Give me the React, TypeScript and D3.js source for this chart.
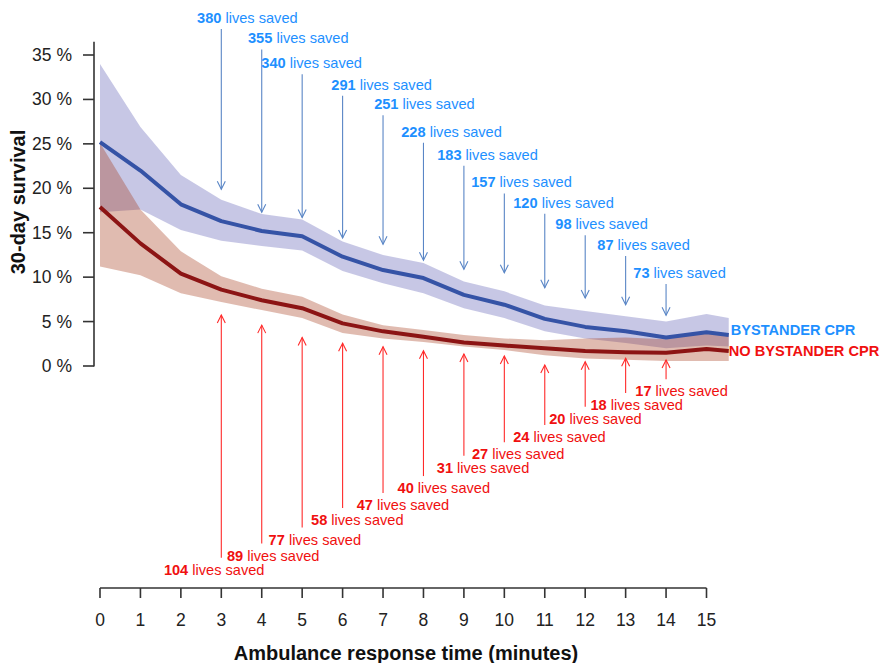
import React from "react";
import * as d3 from "d3";

// ---- data ----
const minutes = [0, 1, 2, 3, 4, 5, 6, 7, 8, 9, 10, 11, 12, 13, 14, 15, 15.55];

const cprMean = [25.2, 22.0, 18.2, 16.3, 15.2, 14.6, 12.3, 10.8, 9.9, 8.0, 6.9, 5.3, 4.4, 3.9, 3.2, 3.8, 3.5];
const cprHigh = [34.0, 26.9, 21.5, 18.7, 17.1, 16.5, 14.0, 12.5, 11.6, 9.5, 8.4, 6.8, 6.2, 5.6, 5.0, 5.85, 5.4];
const cprLow = [17.3, 17.6, 15.3, 14.1, 13.5, 13.0, 10.7, 9.3, 8.2, 6.5, 5.4, 3.9, 3.1, 2.6, 2.0, 2.3, 2.2];

const noCprMean = [17.9, 13.8, 10.4, 8.6, 7.4, 6.5, 4.8, 3.9, 3.3, 2.65, 2.3, 2.0, 1.7, 1.55, 1.5, 1.9, 1.7];
const noCprHigh = [25.1, 17.6, 12.9, 10.1, 8.7, 7.8, 5.8, 4.6, 4.05, 3.5, 3.1, 2.9, 3.1, 3.2, 3.0, 3.8, 3.6];
const noCprLow = [11.2, 10.2, 8.2, 7.2, 6.3, 5.4, 3.7, 3.1, 2.7, 2.2, 1.8, 1.2, 0.85, 0.7, 0.55, 0.55, 0.55];

const arrowMinutes = [3, 4, 5, 6, 7, 8, 9, 10, 11, 12, 13, 14];

const cprSaved = [380, 355, 340, 291, 251, 228, 183, 157, 120, 98, 87, 73];
const cprLabelMin = [2.4, 3.66, 3.99, 5.72, 6.78, 7.45, 8.34, 9.18, 10.22, 11.26, 12.3, 13.19];
const cprLabelPct = [38.6, 36.3, 33.5, 31.1, 28.9, 25.8, 23.2, 20.1, 17.8, 15.4, 13.05, 9.9];
const cprTipPct = [19.9, 17.3, 16.7, 14.4, 13.7, 11.9, 10.9, 10.5, 8.8, 7.65, 6.9, 5.7];

const noCprSaved = [104, 89, 77, 58, 47, 40, 31, 27, 24, 20, 18, 17];
const noCprLabelMin = [1.58, 3.14, 4.17, 5.22, 6.35, 7.36, 8.33, 9.2, 10.22, 11.11, 12.13, 13.24];
const noCprLabelPct = [-23.5, -21.9, -20.1, -17.9, -16.2, -14.3, -12.0, -10.5, -8.55, -6.5, -4.95, -3.4];
const noCprTipPct = [5.74, 4.6, 3.2, 2.55, 2.17, 1.72, 1.35, 1.13, 0.11, 0.48, 0.87, 0.68];

const xTicks = d3.range(0, 16);
const yTicks = [0, 5, 10, 15, 20, 25, 30, 35];

const seriesNames = ["BYSTANDER CPR", "NO BYSTANDER CPR"];

// ---- layout ----
const W = 885;
const H = 663;
const FONT = "'Liberation Sans', Arial, Helvetica, sans-serif";

const x = d3.scaleLinear().domain([0, 15]).range([100, 706.5]);
const y = d3.scaleLinear().domain([0, 35]).range([366, 55]);

const BLUE_TEXT = "#1e90ff";
const BLUE_ARROW = "#5a86c6";
const RED_TEXT = "#f01010";
const RED_ARROW = "#ff2a2a";

export default function App() {
  const area = (lo: number[], hi: number[]) =>
    d3
      .area<number>()
      .x((d) => x(d))
      .y0((_, i) => y(lo[i]))
      .y1((_, i) => y(hi[i]))(minutes) as string;
  const line = (v: number[]) =>
    d3
      .line<number>()
      .x((d) => x(d))
      .y((_, i) => y(v[i]))(minutes) as string;

  const lastX = x(minutes[minutes.length - 1]);

  return (
    <svg
      width={W}
      height={H}
      style={{ position: "absolute", left: 0, top: 0, background: "#fff" }}
      fontFamily={FONT}
    >
      {/* bands */}
      <path d={area(cprLow, cprHigh)} fill="rgb(70,70,170)" fillOpacity={0.3} />
      <path d={area(noCprLow, noCprHigh)} fill="rgb(165,60,30)" fillOpacity={0.35} />
      {/* lines */}
      <path d={line(cprMean)} fill="none" stroke="#3553a6" strokeWidth={4} strokeLinejoin="round" />
      <path d={line(noCprMean)} fill="none" stroke="#8c1414" strokeWidth={4} strokeLinejoin="round" />

      {/* legend labels */}
      <text x={lastX + 2} y={y(cprMean[cprMean.length - 1]) - 4} fill={BLUE_TEXT} fontWeight="bold" fontSize={14.6} dominantBaseline="middle">
        {seriesNames[0]}
      </text>
      <text x={lastX} y={y(noCprMean[noCprMean.length - 1]) + 1} fill={RED_TEXT} fontWeight="bold" fontSize={14.6} dominantBaseline="middle">
        {seriesNames[1]}
      </text>

      {/* blue annotations */}
      {arrowMinutes.map((m, i) => {
        const ax = x(m);
        const ty = y(cprTipPct[i]);
        const sy = y(cprLabelPct[i]) + 6;
        return (
          <g key={"b" + i}>
            <line x1={ax} x2={ax} y1={sy} y2={ty} stroke={BLUE_ARROW} strokeWidth={1.1} />
            <path d={`M${ax - 4},${ty - 8} L${ax},${ty} L${ax + 4},${ty - 8}`} fill="none" stroke={BLUE_ARROW} strokeWidth={1.1} />
            <text x={x(cprLabelMin[i])} y={y(cprLabelPct[i])} fontSize={14.6} fill={BLUE_TEXT}>
              <tspan fontWeight="bold">{cprSaved[i]}</tspan>
              <tspan> lives saved</tspan>
            </text>
          </g>
        );
      })}

      {/* red annotations */}
      {arrowMinutes.map((m, i) => {
        const ax = x(m);
        const ty = y(noCprTipPct[i]);
        const sy = y(noCprLabelPct[i]) - 17;
        return (
          <g key={"r" + i}>
            <line x1={ax} x2={ax} y1={sy} y2={ty} stroke={RED_ARROW} strokeWidth={1.1} />
            <path d={`M${ax - 4},${ty + 8} L${ax},${ty} L${ax + 4},${ty + 8}`} fill="none" stroke={RED_ARROW} strokeWidth={1.1} />
            <text x={x(noCprLabelMin[i])} y={y(noCprLabelPct[i])} fontSize={14.6} fill={RED_TEXT}>
              <tspan fontWeight="bold">{noCprSaved[i]}</tspan>
              <tspan> lives saved</tspan>
            </text>
          </g>
        );
      })}

      {/* y axis */}
      <line x1={94} x2={94} y1={y(0) + 0.5} y2={y(36.5)} stroke="#333" strokeWidth={1.6} />
      {yTicks.map((t) => (
        <g key={"yt" + t}>
          <line x1={83} x2={94} y1={y(t)} y2={y(t)} stroke="#333" strokeWidth={1.6} />
          <text x={72} y={y(t)} textAnchor="end" dominantBaseline="central" fontSize={17.5} fill="#222">
            {t} %
          </text>
        </g>
      ))}
      <text
        transform={`translate(25, 202) rotate(-90)`}
        textAnchor="middle"
        fontWeight="bold"
        fontSize={20}
        fill="#111"
      >
        30-day survival
      </text>

      {/* x axis */}
      <line x1={x(0)} x2={x(15)} y1={588} y2={588} stroke="#333" strokeWidth={1.6} />
      {xTicks.map((t) => (
        <g key={"xt" + t}>
          <line x1={x(t)} x2={x(t)} y1={588} y2={598} stroke="#333" strokeWidth={1.6} />
          <text x={x(t)} y={626} textAnchor="middle" fontSize={17.5} fill="#222">
            {t}
          </text>
        </g>
      ))}
      <text x={406} y={660} textAnchor="middle" fontWeight="bold" fontSize={20} fill="#111">
        Ambulance response time (minutes)
      </text>
    </svg>
  );
}
